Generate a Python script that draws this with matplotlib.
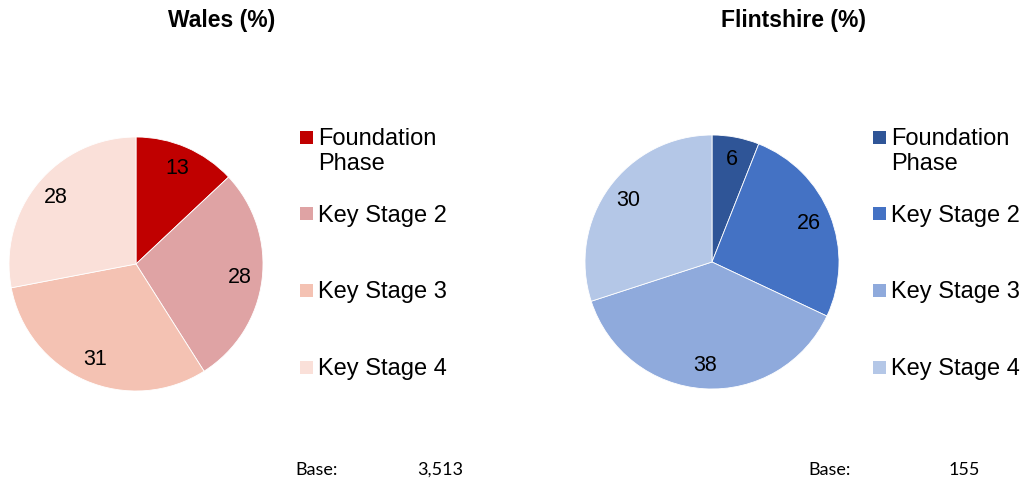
import matplotlib.pyplot as plt
from matplotlib.patches import Rectangle

# Data
categories = ['Foundation\nPhase', 'Key Stage 2', 'Key Stage 3', 'Key Stage 4']
wales_values = [13, 28, 31, 28]
flint_values = [6, 26, 38, 30]
wales_base = '3,513'
flint_base = '155'

WALES_COLORS = ['#C00000', '#DFA3A4', '#F4C2B3', '#FAE0D9']
FLINT_COLORS = ['#2F5597', '#4472C4', '#8FAADC', '#B4C7E7']

W, H = 1022, 483
plt.rcParams['font.family'] = ['Liberation Sans', 'DejaVu Sans']

fig = plt.figure(figsize=(W / 100, H / 100), dpi=100)


def fx(x):
    return x / W


def fy(y):
    # pixel y from top -> figure fraction
    return 1 - y / H


def draw_pie(cx, cy, values, colors, title, title_x, legend_x, base_label_x, base_val_x, base):
    r = 127
    ax = fig.add_axes([fx(cx - r), fy(cy + r), 2 * r / W, 2 * r / H])
    ax.pie(values, colors=colors, startangle=90, counterclock=False,
           autopct=lambda p: f'{p:.0f}', pctdistance=0.82,
           wedgeprops=dict(linewidth=0.6, edgecolor='white'),
           textprops=dict(fontsize=15.5, color='black'))
    ax.set_xlim(-1, 1)
    ax.set_ylim(-1, 1)

    fig.text(fx(title_x), fy(21), title, ha='center', va='center',
             fontsize=16.5, fontweight='bold')

    # legend entries spaced evenly by their first line, like the source
    for i, (label, color) in enumerate(zip(categories, colors)):
        y = 137 + i * 76.7
        fig.patches.append(Rectangle((fx(legend_x), fy(y + 6.5)), 13 / W, 13 / H,
                                     transform=fig.transFigure, facecolor=color,
                                     edgecolor='none'))
        fig.text(fx(legend_x + 18), fy(y - 9), label, ha='left', va='top',
                 fontsize=17, linespacing=1.2)

    fig.text(fx(base_label_x), fy(470), 'Base:', ha='left', va='center',
             fontsize=13, family=['Lato', 'DejaVu Sans'])
    fig.text(fx(base_val_x), fy(470), base, ha='right', va='center',
             fontsize=13, family=['Lato', 'DejaVu Sans'])


draw_pie(136, 264, wales_values, WALES_COLORS, 'Wales (%)', 222, 300, 295, 463, wales_base)
draw_pie(712, 262, flint_values, FLINT_COLORS, 'Flintshire (%)', 793, 873, 808, 980, flint_base)

fig.savefig('out.png', dpi=100, facecolor='white')
